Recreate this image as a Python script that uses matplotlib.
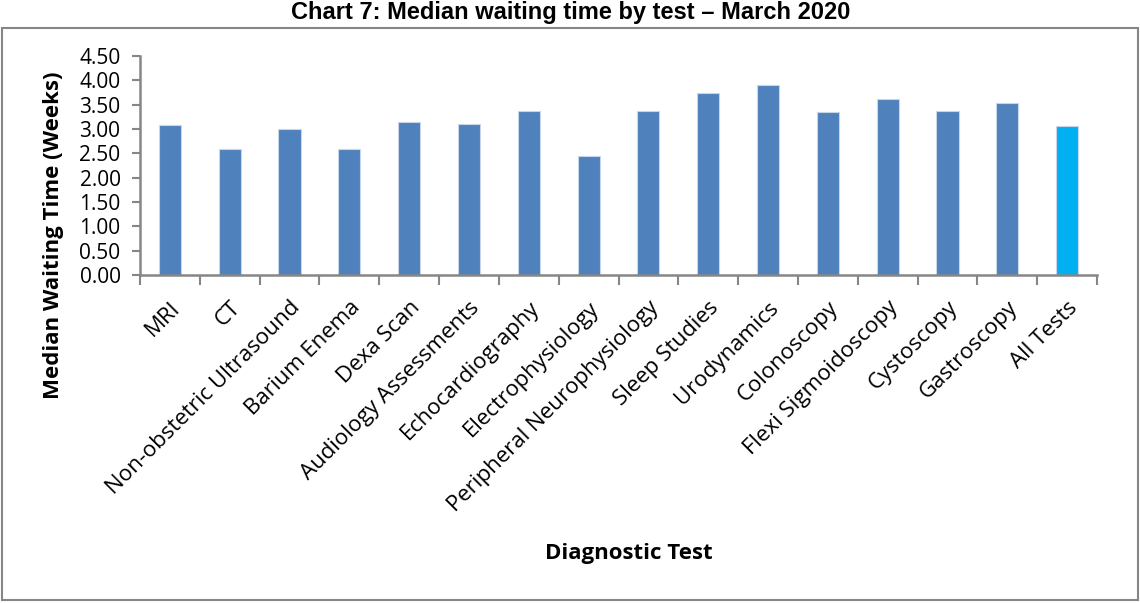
import numpy as np
import matplotlib
matplotlib.use("Agg")
import matplotlib.pyplot as plt
from matplotlib.patches import Rectangle

# data
tests = ["MRI", "CT", "Non-obstetric Ultrasound", "Barium Enema", "Dexa Scan",
         "Audiology Assessments", "Echocardiography", "Electrophysiology",
         "Peripheral Neurophysiology", "Sleep Studies", "Urodynamics",
         "Colonoscopy", "Flexi Sigmoidoscopy", "Cystoscopy", "Gastroscopy",
         "All Tests"]
weeks = [3.09, 2.59, 2.99, 2.59, 3.14, 3.11, 3.38, 2.45,
         3.38, 3.75, 3.90, 3.35, 3.61, 3.38, 3.53, 3.06]
yticks = [0.0, 0.5, 1.0, 1.5, 2.0, 2.5, 3.0, 3.5, 4.0, 4.5]

W, H = 1140, 603
fig = plt.figure(figsize=(W / 100, H / 100), dpi=100)
ax = fig.add_axes([140 / W, 1 - 275 / H, 957 / W, 219 / H])

colors = ["#4F81BD"] * (len(tests) - 1) + ["#00B0F0"]
x = np.arange(len(tests))
ax.bar(x, weeks, width=0.37, color=colors, edgecolor="#c9d6ea", linewidth=0.8)

ax.set_xlim(-0.5, len(tests) - 0.5)
ax.set_ylim(0, 4.5)
ax.set_yticks(yticks)
ax.set_yticklabels([f"{v:.2f}" for v in yticks], fontfamily="Open Sans", fontsize=15)

# category labels between tick marks
ax.set_xticks(x)
ax.set_xticklabels(tests, rotation=45, ha="right", rotation_mode="anchor",
                   fontfamily="Open Sans", fontsize=16)
ax.tick_params(axis="x", length=0, pad=16)
ax.set_xticks(np.arange(-0.5, len(tests)), minor=True)
ax.tick_params(axis="x", which="minor", length=7, width=1.5, color="#868686")
ax.tick_params(axis="y", length=6, width=1.5, color="#868686", pad=8)

for s in ["top", "right"]:
    ax.spines[s].set_visible(False)
for s in ["left", "bottom"]:
    ax.spines[s].set_color("#868686")
    ax.spines[s].set_linewidth(1.8)

fig.text(54 / W, 1 - 235 / H, "Median Waiting Time (Weeks)", rotation=90,
         ha="center", va="center", fontfamily="Open Sans", fontweight="bold", fontsize=16)
fig.text(629 / W, 1 - 553 / H, "Diagnostic Test", ha="center", va="center",
         fontfamily="Open Sans", fontweight="bold", fontsize=16)
fig.text(571 / W, 1 - 13 / H, "Chart 7: Median waiting time by test \u2013 March 2020",
         ha="center", va="center", fontfamily="Liberation Sans", fontweight="bold", fontsize=17)

# outer chart border
fig.patches.append(Rectangle((2 / W, 3 / H), 1136 / W, 572 / H, transform=fig.transFigure,
                             fill=False, edgecolor="#868686", linewidth=1.5))

fig.savefig("out.png", dpi=100)
